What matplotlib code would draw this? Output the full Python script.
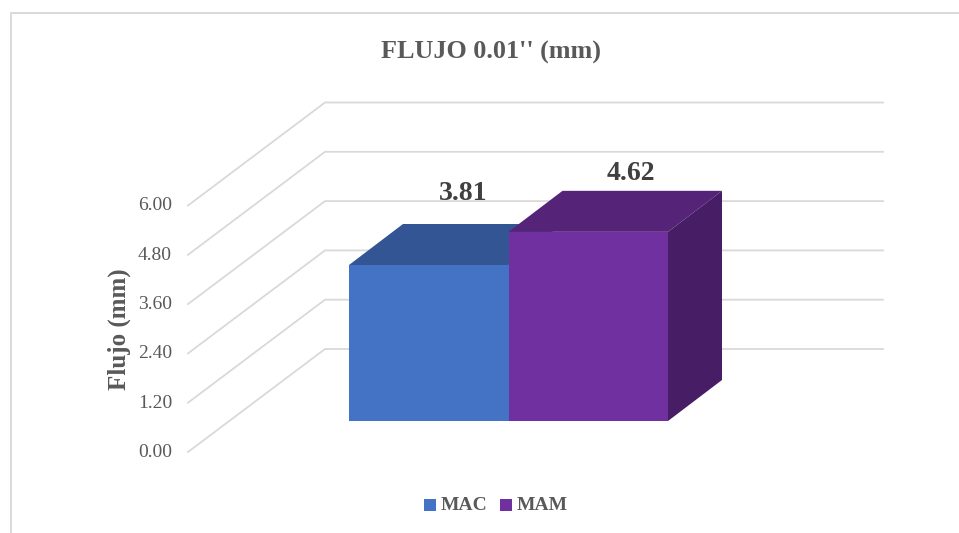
import matplotlib
matplotlib.use('Agg')
import matplotlib.pyplot as plt
from matplotlib.patches import Polygon, Rectangle

categories = ['MAC', 'MAM']
values = [3.81, 4.62]
tick_values = [0, 1.2, 2.4, 3.6, 4.8, 6.0]
title = "FLUJO 0.01'' (mm)"
ylabel = 'Flujo (mm)'

front_colors = ['#4472C4', '#7030A0']
top_colors = ['#335593', '#552478']
side_colors = ['#2A4679', '#471E65']
grid_color = '#D9D9D9'
text_color = '#595959'

plt.rcParams['font.family'] = ['Liberation Serif', 'DejaVu Serif']

# the chart is a fake 3D one, so work in figure pixels and map values by hand
px_per_unit_wall = (349 - 102.5) / 6
px_per_unit_bar = (421 - 265) / 3.81
bar_left = 349
bar_width = 159.5
depth_x = 54
depth_y = 41
bar_base = 421
label_pos = [(463.5, 194), (630.5, 174)]


def wall_y(v):
    return 349 - v * px_per_unit_wall


def front_y(v):
    return 452 - v * px_per_unit_wall


def bar_top(v):
    return bar_base - v * px_per_unit_bar


fig = plt.figure(figsize=(9.59, 5.33), dpi=100)
ax = fig.add_axes([0, 0, 1, 1])
ax.set_xlim(0, 959)
ax.set_ylim(533, 0)
ax.axis('off')

# outer chart frame, open at the bottom
ax.plot([10.5, 10.5, 959], [533, 12.5, 12.5], color=grid_color, lw=1.4, zorder=1)

for v in tick_values:
    ax.plot([188, 325, 883], [front_y(v), wall_y(v), wall_y(v)],
            color=grid_color, lw=1.3, zorder=1, solid_joinstyle='miter')
    ax.text(172, front_y(v) + 0.5, '%.2f' % v, ha='right', va='center',
            fontsize=14, color=text_color)

# bars, left one first so the right one covers it
for i, (name, v) in enumerate(zip(categories, values)):
    x0 = bar_left + i * bar_width
    x1 = x0 + bar_width
    top = bar_top(v)
    ax.add_patch(Polygon([(x0, top), (x0 + depth_x, top - depth_y),
                          (x1 + depth_x, top - depth_y), (x1, top)],
                         fc=top_colors[i], ec='none', zorder=2 + i))
    # only the last bar shows its side, the others are hidden behind the next one
    if i == len(values) - 1:
        ax.add_patch(Polygon([(x1, top), (x1 + depth_x, top - depth_y),
                              (x1 + depth_x, bar_base - depth_y), (x1, bar_base)],
                             fc=side_colors[i], ec='none', zorder=2 + i))
    ax.add_patch(Rectangle((x0, top), bar_width, bar_base - top,
                           fc=front_colors[i], ec='none', zorder=2 + i))
    ax.text(label_pos[i][0], label_pos[i][1], '%.2f' % v, ha='center', va='center',
            fontsize=20, fontweight='bold', color='#404040', zorder=6)

ax.text(491, 52, title, ha='center', va='center', fontsize=18.8,
        fontweight='bold', color=text_color)
ax.text(119, 329, ylabel, ha='center', va='center', rotation=90, fontsize=18,
        fontweight='bold', color=text_color)

# legend
legend_x = [424, 500]
for i, name in enumerate(categories):
    ax.add_patch(Rectangle((legend_x[i], 499), 12, 12, fc=front_colors[i], ec='none'))
    ax.text(legend_x[i] + 17, 505, name, ha='left', va='center', fontsize=14,
            fontweight='bold', color=text_color)

fig.savefig('out.png', dpi=100)
